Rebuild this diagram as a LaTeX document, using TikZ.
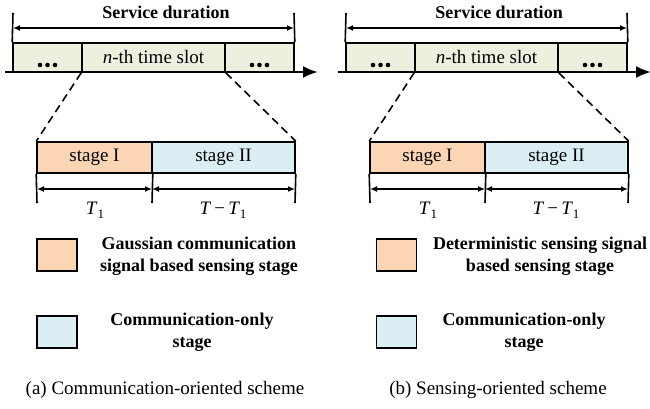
\documentclass[tikz,border=0pt]{standalone}
\usepackage{fontspec}
\setmainfont{Liberation Serif}
\usetikzlibrary{arrows.meta}
\definecolor{slotgreen}{HTML}{EBF1DE}
\definecolor{stageorange}{HTML}{FCD5B5}
\definecolor{stageblue}{HTML}{DBEEF4}
\newcommand\regfont{\fontsize{19}{22}\selectfont}
\newcommand\boldfont{\fontsize{18}{22}\selectfont\bfseries}
\newcommand\Tone{\textit{T}\raisebox{-4pt}{\fontsize{13}{13}\selectfont 1}}
\newcommand\drawpanel[1]{%
\begin{scope}[xshift=#1pt]
  % service duration
  \coordinate (sL) at (13,13);
  \coordinate (sR) at (294,13);
  \coordinate (aL) at (13,28);
  \coordinate (aR) at (294,28);
  \node[boldtxt] (serv) at (166,12) {Service duration};
  % slots
  \node[slotbox, minimum width=69pt] (d1) at (47.5,57.5) {};
  \node[slotbox, minimum width=143pt] (ts) at (153.5,57.5) {\textit{n}-th time slot};
  \node[slotbox, minimum width=69pt] (d2) at (259.5,57.5) {};
  \foreach \i/\xx in {1/40,2/47.5,3/55} {\fill (\xx,65) circle (2.3pt);}
  \foreach \i/\xx in {1/252,2/259.5,3/267} {\fill (\xx,65) circle (2.3pt);}
  \draw[ticks] (sL) -- (d1.north west);
  \draw[ticks] (sR) -- (d2.north east);
  \draw[dimarrow] (aL) -- (aR);
  \coordinate (axL) at (5,72);
  \coordinate (axR) at (318,72);
  \draw[axis] (axL) -- (axR);
  % stage boxes
  \node[stagebox, fill=stageorange, minimum width=115pt] (st1) at (94.5,157.5) {stage I};
  \node[stagebox, fill=stageblue, minimum width=143pt] (st2) at (223.5,157.5) {stage II};
  \draw[zoomline] (ts.south west) -- (st1.north west);
  \draw[zoomline] (ts.south east) -- (st2.north east);
  \coordinate (b1) at (37,203);
  \coordinate (b2) at (152,203);
  \coordinate (b3) at (295,203);
  \coordinate (c1) at (37,189);
  \coordinate (c2) at (152,189);
  \coordinate (c3) at (295,189);
  \draw[ticks] (st1.south west) -- (b1);
  \draw[ticks] (st1.south east) -- (b2);
  \draw[ticks] (st2.south east) -- (b3);
  \draw[dimarrow] (c1) -- (c2);
  \draw[dimarrow] (c2) -- (c3);
  \node[regtxt] (t1) at (95,210) {\Tone};
  \node[regtxt] (t2) at (223,210) {\textit{T}\,−\,\Tone};
\end{scope}}
\begin{document}
\begin{tikzpicture}[x=1pt,y=-1pt,
  slotbox/.style={draw, line width=1.6pt, fill=slotgreen, minimum height=29pt, inner sep=0pt, font=\regfont},
  stagebox/.style={draw, line width=1.6pt, minimum height=31pt, inner sep=0pt, font=\regfont},
  legbox/.style={draw, line width=1.6pt, minimum width=40pt, minimum height=32pt, inner sep=0pt},
  ticks/.style={line width=1.6pt},
  dimarrow/.style={line width=1.7pt, {Latex[length=7pt,width=6pt]}-{Latex[length=7pt,width=6pt]}},
  axis/.style={line width=2.4pt, -{Latex[length=15pt,width=12pt]}},
  zoomline/.style={line width=1.6pt, dash pattern=on 8pt off 5pt},
  boldtxt/.style={font=\boldfont, inner sep=0pt},
  regtxt/.style={font=\regfont, inner sep=0pt},
  legtxt/.style={font=\boldfont, inner sep=0pt, align=center},
]
\useasboundingbox (0,0) rectangle (650,409);
\drawpanel{0}
\begin{scope}[name prefix=b-]
\drawpanel{333}
\end{scope}
% legends left
\node[legbox, fill=stageorange] (la1) at (57,255) {};
\node[legtxt] (lt1) at (199,256) {Gaussian communication\\signal based sensing stage};
\node[legbox, fill=stageblue] (la2) at (57,332) {};
\node[legtxt] (lt2) at (192,332.5) {Communication-only\\stage};
\node[regtxt] (capa) at (165,390) {(a) Communication-oriented scheme};
% legends right
\node[legbox, fill=stageorange] (lb1) at (396.5,255) {};
\node[legtxt] (lt3) at (540,256) {Deterministic sensing signal\\based sensing stage};
\node[legbox, fill=stageblue] (lb2) at (396.5,332) {};
\node[legtxt] (lt4) at (524,332.5) {Communication-only\\stage};
\node[regtxt] (capb) at (498,390) {(b) Sensing-oriented scheme};
\end{tikzpicture}
\end{document}
